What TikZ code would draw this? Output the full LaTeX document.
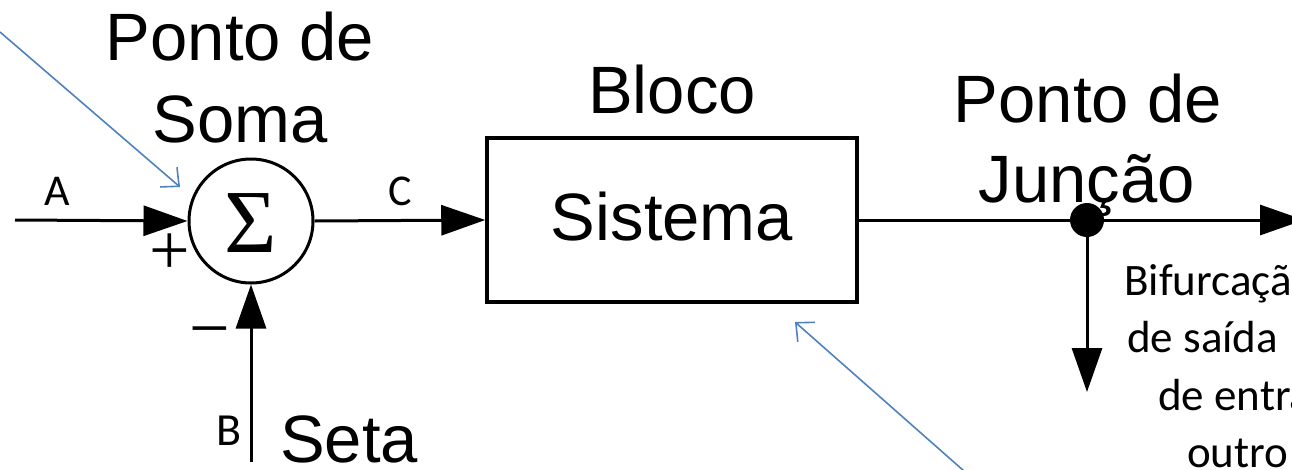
\documentclass[tikz,border=0pt]{standalone}
\usepackage{fontspec}
\setmainfont{Liberation Sans}
\newfontfamily\calfont{Carlito}
\newfontfamily\serfont{Liberation Serif}
\usetikzlibrary{arrows.meta}
\definecolor{noteblue}{HTML}{4F81BD}

\begin{document}
\begin{tikzpicture}[x=1pt,y=-1pt,
  signal/.style={line width=3pt, -{Triangle[length=44pt,width=30pt]}},
  wire/.style={line width=3pt},
  note/.style={draw=noteblue, line width=1.6pt, -{Straight Barb[length=14pt,width=26pt]}},
  title/.style={font=\fontsize{67}{81}\selectfont, inner sep=0pt, anchor=base},
  tag/.style={font=\calfont\fontsize{44}{57}\selectfont, inner sep=0pt, anchor=base},
  remark/.style={font=\calfont\fontsize{45}{57}\selectfont, inner sep=0pt, anchor=base west},
  sign/.style={font=\serfont\fontsize{72}{72}\selectfont, inner sep=0pt, anchor=base}]
\useasboundingbox (0,0) rectangle (1292,469);
\clip (0,0) rectangle (1292,469);

% summing junction, block and branch point
\node[circle, draw, line width=3pt, minimum size=124pt, inner sep=0pt] (sum) at (251,221) {};
\node[font=\serfont\fontsize{90}{90}\selectfont, inner sep=0pt, anchor=base] (sigma) at (251,252) {Σ};
\node[draw, line width=3.5pt, minimum width=370pt, minimum height=164pt, inner sep=0pt] (blk) at (672,220) {};
\node[title] (sys) at (672,240) {Sistema};
\node[circle, fill=black, minimum size=34pt, inner sep=0pt] (jn) at (1087,220) {};

% free ends of the signals
\coordinate (ain) at (15,220);
\coordinate (bin) at (251,462);
\coordinate (outend) at (1304,220);
\coordinate (brend) at (1087,392);

% signal lines
\draw[signal] (ain) -- (sum.west);
\draw[signal] (bin) -- (sum.south);
\draw[signal] (sum.east) -- (blk.west);
\draw[wire] (blk.east) -- (jn.center);
\draw[signal] (jn.center) -- (outend);
\draw[signal] (jn.center) -- (brend);

% signs at the summing junction
\node[sign] (plus) at (170,274) {+};
\node[sign] (minus) at (210,352) {−};

% signal names
\node[tag] (la) at (57,205) {A};
\node[tag] (lc) at (400,205) {C};
\node[tag, font=\calfont\fontsize{46}{57}\selectfont] (lb) at (229,445) {B};

% titles
\node[title] (t1) at (240,60) {Ponto de};
\node[title] (t2) at (240,142) {Soma};
\node[title] (t3) at (672,113) {Bloco};
\node[title] (t4) at (349,462) {Seta};
\node[title] (t5) at (1088,122) {Ponto de};
\node[title] (t6) at (1087,202) {Junção};

% branch description
\node[remark] (d1) at (1124,295) {Bifurcação};
\node[remark] (d2) at (1127,352) {de saída};
\node[remark] (d3) at (1158,410) {de entrada};
\node[remark] (d4) at (1187,467) {outro};

% pointers
\coordinate (p1) at (0,32);
\coordinate (p1tip) at (180,187);
\coordinate (p2) at (964,471);
\coordinate (p2tip) at (795,322);
\draw[note] (p1) -- (p1tip);
\draw[note] (p2) -- (p2tip);
\end{tikzpicture}
\end{document}
